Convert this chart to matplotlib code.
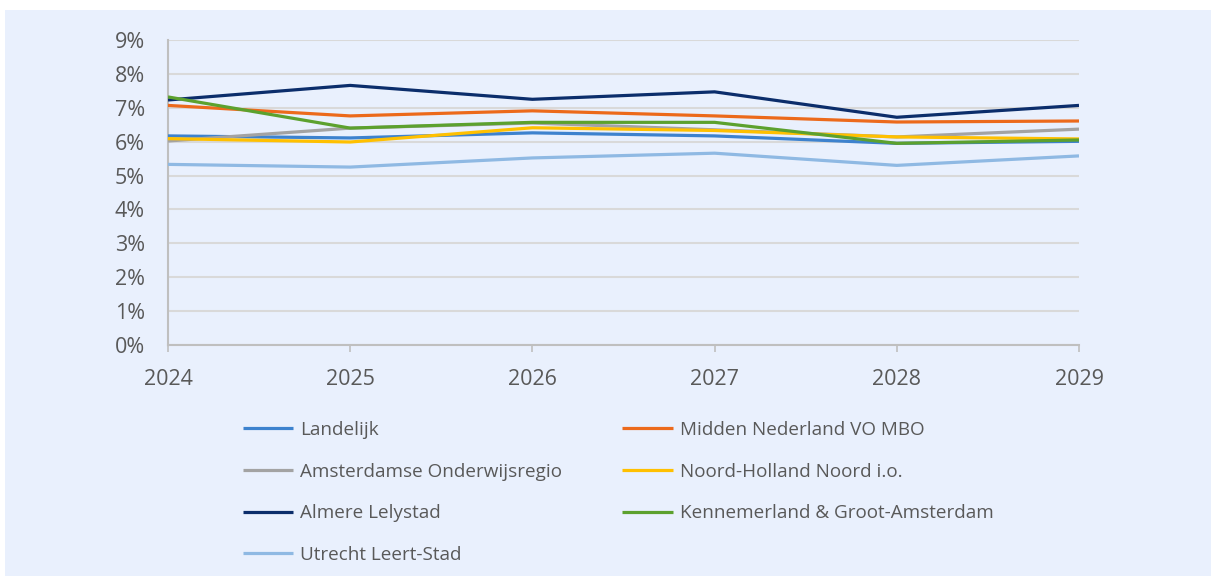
import matplotlib.pyplot as plt
from matplotlib.patches import Rectangle
from matplotlib.ticker import FuncFormatter

years = [2024, 2025, 2026, 2027, 2028, 2029]

series_names = [
    "Landelijk",
    "Midden Nederland VO MBO",
    "Amsterdamse Onderwijsregio",
    "Noord-Holland Noord i.o.",
    "Almere Lelystad",
    "Kennemerland & Groot-Amsterdam",
    "Utrecht Leert-Stad",
]

landelijk = [6.17, 6.11, 6.26, 6.17, 5.95, 6.01]
midden_nederland = [7.07, 6.76, 6.91, 6.76, 6.58, 6.61]
amsterdamse = [6.02, 6.40, 6.55, 6.35, 6.14, 6.37]
noord_holland = [6.09, 5.99, 6.41, 6.33, 6.14, 6.08]
almere = [7.23, 7.66, 7.25, 7.47, 6.72, 7.07]
kennemerland = [7.32, 6.40, 6.57, 6.57, 5.95, 6.05]
utrecht = [5.33, 5.25, 5.52, 5.66, 5.30, 5.58]

colors = ['#3D82CE', '#EC6A1C', '#A3A3A3', '#FFC000', '#0B2D6B', '#5CA12E', '#8FB9E3']

all_values = [landelijk, midden_nederland, amsterdamse, noord_holland,
              almere, kennemerland, utrecht]

plt.rcParams['font.family'] = ['Open Sans', 'DejaVu Sans']
txt_color = '#595959'
bg = '#E9F0FD'

fig = plt.figure(figsize=(12.11, 5.77), dpi=100, facecolor='white')
fig.patches.append(Rectangle((5 / 1211, 1 / 577), 1, (577 - 11) / 577,
                             transform=fig.transFigure, facecolor=bg,
                             edgecolor='none', zorder=-10))

ax = fig.add_axes([168 / 1211, 1 - 345 / 577, 911 / 1211, 305 / 577])
ax.patch.set_visible(False)

handles = []
for name, vals, col in zip(series_names, all_values, colors):
    h, = ax.plot(years, vals, color=col, linewidth=2.3, label=name,
                 solid_capstyle='butt', zorder=3)
    handles.append(h)

ax.set_xlim(2024, 2029)
ax.set_ylim(0, 9)
ax.set_yticks(range(0, 10))
ax.yaxis.set_major_formatter(FuncFormatter(lambda v, p: f"{int(v)}%"))
ax.set_xticks(years)

ax.grid(axis='y', color='#D9D9D9', linewidth=1.5, zorder=1)
ax.set_axisbelow(True)
for s in ['top', 'right']:
    ax.spines[s].set_visible(False)
for s in ['left', 'bottom']:
    ax.spines[s].set_color('#BFBFBF')
    ax.spines[s].set_linewidth(1.5)

ax.tick_params(axis='y', length=0, pad=16.5, labelsize=15.5, labelcolor=txt_color)
ax.tick_params(axis='x', length=5, width=1.2, color='#BFBFBF', direction='out',
               pad=12, labelsize=15.5, labelcolor=txt_color)

# legend: two columns, filled row by row
order = [0, 2, 4, 6, 1, 3, 5]
leg = fig.legend([handles[i] for i in order], [series_names[i] for i in order],
                 ncol=2, loc='upper left', bbox_to_anchor=(226 / 1211, 1 - 404 / 577),
                 frameon=False, fontsize=13.6, handlelength=2.65, handletextpad=0.37,
                 columnspacing=3.2, labelspacing=1.25, labelcolor=txt_color)

fig.savefig('out.png', dpi=100, facecolor='white')
